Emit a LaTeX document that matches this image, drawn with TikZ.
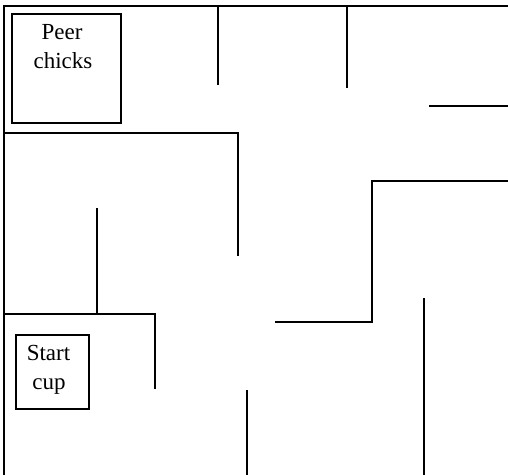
\documentclass[tikz,border=0pt]{standalone}
\usepackage{fontspec}
\setmainfont{Liberation Serif}
\begin{document}
\begin{tikzpicture}[x=1pt,y=-1pt,
  wall/.style={line width=1.6pt,line cap=rect},
  cupbox/.style={draw,line width=1.6pt,minimum width=#1,inner sep=0pt},
  label/.style={font=\fontsize{23}{28}\selectfont,anchor=base,inner sep=0pt}]
\useasboundingbox (0,0) rectangle (508,474);
\fill[white] (0,0) rectangle (508,474);
% outer walls
\draw[wall] (508,6) -- (4,6) -- (4,474);
% peer chicks box
\draw[wall] (12,14) rectangle (121,123);
\node[label] (peer) at (62,39) {Peer};
\node[label] (chicks) at (63,68) {chicks};
% start cup box
\draw[wall] (16,335) rectangle (89,409);
\node[label] (start) at (48.5,360) {Start};
\node[label] (cup) at (49,389) {cup};
% inner walls
\draw[wall] (218,6) -- (218,84);
\draw[wall] (347,6) -- (347,87);
\draw[wall] (430,106) -- (508,106);
\draw[wall] (4,133) -- (238,133) -- (238,255);
\draw[wall] (508,181) -- (372,181) -- (372,322) -- (276,322);
\draw[wall] (97,209) -- (97,314);
\draw[wall] (4,314) -- (155,314) -- (155,388);
\draw[wall] (424,299) -- (424,474);
\draw[wall] (247,391) -- (247,474);
\end{tikzpicture}
\end{document}
